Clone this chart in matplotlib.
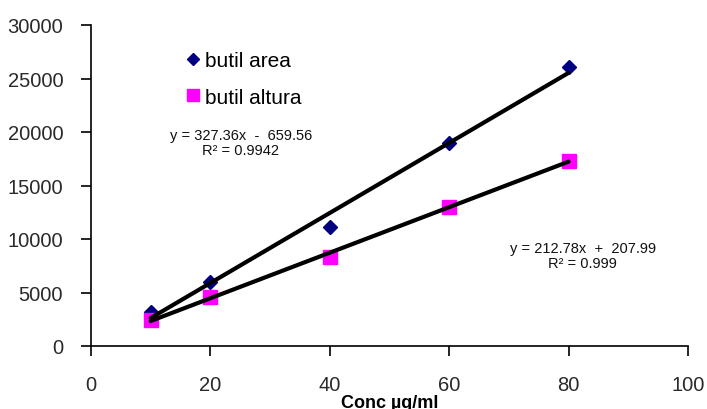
import numpy as np
import matplotlib
matplotlib.use("Agg")
import matplotlib.pyplot as plt
from matplotlib.lines import Line2D

plt.rcParams["font.family"] = ["Liberation Sans", "DejaVu Sans"]

# Calibration data
conc = [10, 20, 40, 60, 80]
area = [3150, 6000, 11150, 19000, 26050]
altura = [2400, 4600, 8300, 13000, 17300]

# Linear trendline coefficients (slope, intercept, R²)
area_fit = (327.36, -659.56, 0.9942)
altura_fit = (212.78, 207.99, 0.999)

x_ticks = [0, 20, 40, 60, 80, 100]
y_ticks = [0, 5000, 10000, 15000, 20000, 25000, 30000]

fig = plt.figure(figsize=(7.07, 4.10), dpi=100)
ax = fig.add_axes([91 / 707, 63 / 410, 597 / 707, 321 / 410])

navy = "#000080"
pink = "#FF00FF"

ax.plot(conc, area, linestyle="none", marker="D", markersize=7,
        color=navy, zorder=3)
ax.plot(conc, altura, linestyle="none", marker="s", markersize=9.5,
        color=pink, zorder=3)

xfit = np.array([min(conc), max(conc)], dtype=float)
for slope, icpt, _ in (area_fit, altura_fit):
    ax.plot(xfit, slope * xfit + icpt, color="black", lw=3,
            solid_capstyle="round", zorder=4)

ax.set_xlim(0, 100)
ax.set_ylim(0, 30000)
ax.set_xticks(x_ticks)
ax.set_yticks(y_ticks)
ax.tick_params(axis="both", direction="out", length=7, width=1.2,
               labelsize=14.5, labelcolor="#2a2a2a")
ax.tick_params(axis="x", pad=14)
ax.tick_params(axis="y", pad=13)
for side in ("top", "right"):
    ax.spines[side].set_visible(False)
for side in ("left", "bottom"):
    ax.spines[side].set_linewidth(1.2)

ax.set_xlabel("Conc µg/ml", fontsize=13, fontweight="bold", labelpad=0)
ax.xaxis.set_label_coords(0.5, -0.148)

handles = [
    Line2D([], [], linestyle="none", marker="D", markersize=6, color=navy),
    Line2D([], [], linestyle="none", marker="s", markersize=8.5, color=pink),
]
ax.legend(handles, ["butil area", "butil altura"], loc="upper left",
          bbox_to_anchor=(0.147, 0.945), frameon=False, fontsize=15,
          handlelength=0.6, handletextpad=0.25, labelspacing=0.85,
          borderaxespad=0)

def eq_label(slope, icpt):
    sign = "-" if icpt < 0 else "+"
    return f"y = {slope:.2f}x  {sign}  {abs(icpt):.2f}"

ax.text(0.251, 0.634, eq_label(*area_fit[:2]) + f"\nR² = {area_fit[2]}",
        transform=ax.transAxes, ha="center", va="center", fontsize=10.5,
        linespacing=1.15, color="#111111")
ax.text(0.824, 0.282, eq_label(*altura_fit[:2]) + f"\nR² = {altura_fit[2]}",
        transform=ax.transAxes, ha="center", va="center", fontsize=10.5,
        linespacing=1.15, color="#111111")

fig.savefig("out.png", dpi=100)
